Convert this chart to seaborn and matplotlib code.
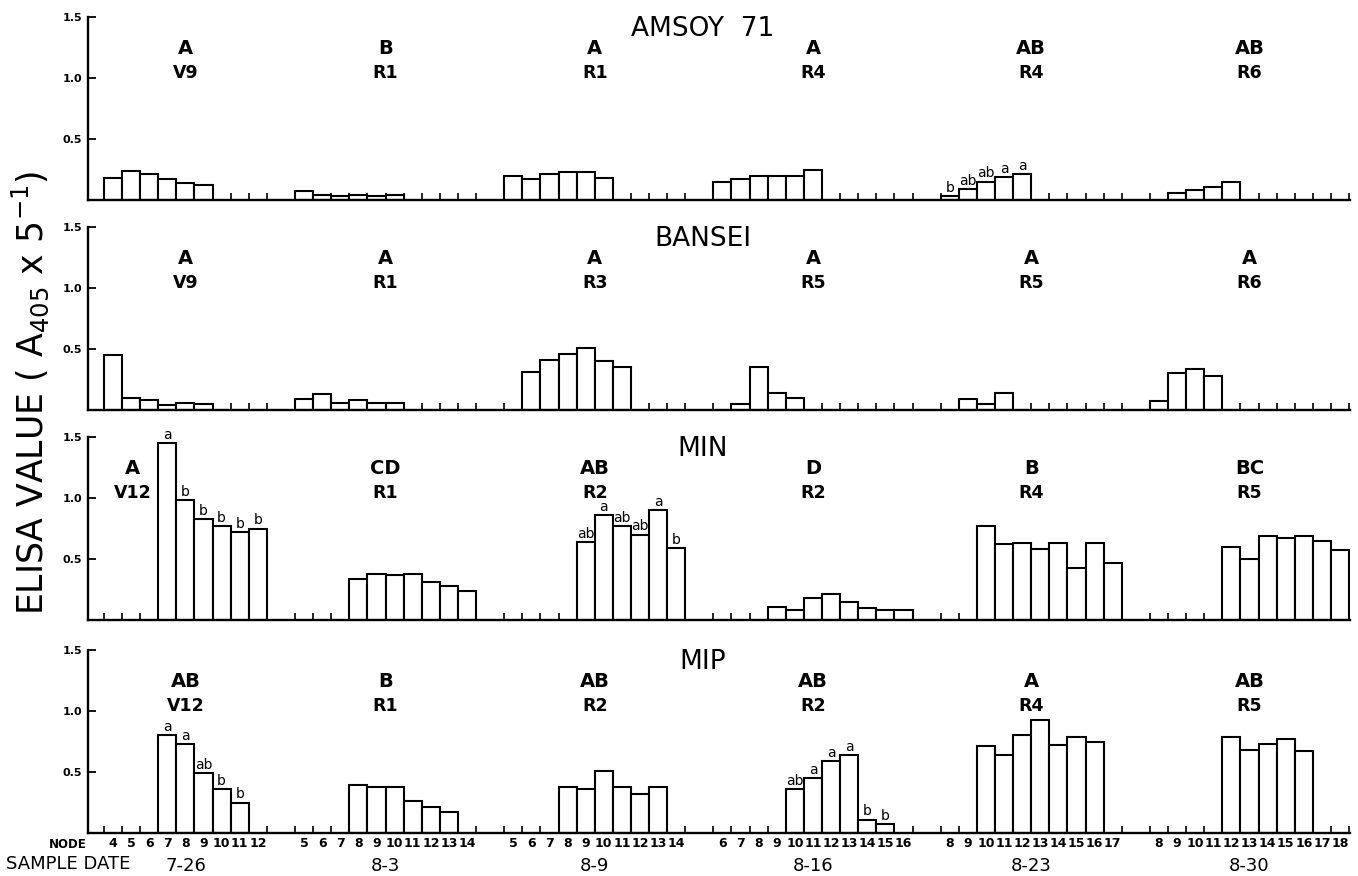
import numpy as np
import pandas as pd
import matplotlib
matplotlib.use("Agg")
import matplotlib.pyplot as plt
import seaborn as sns

# ---------------- data ----------------
SAMPLE_DATES = ["7-26", "8-3", "8-9", "8-16", "8-23", "8-30"]
NODE_FIRST = [4, 5, 5, 6, 8, 8]      # first node listed on the axis per sample date
NODE_LAST = [12, 14, 14, 16, 17, 18]  # last node listed on the axis per sample date

CULTIVARS = ["AMSOY  71", "BANSEI", "MIN", "MIP"]

# first node with a bar, per sample date
AMSOY_START = [4, 5, 5, 6, 8, 9]
AMSOY_VALUES = [
    [0.18, 0.24, 0.21, 0.17, 0.14, 0.12],
    [0.07, 0.045, 0.03, 0.045, 0.03, 0.045],
    [0.20, 0.17, 0.21, 0.23, 0.23, 0.18],
    [0.15, 0.17, 0.20, 0.20, 0.20, 0.25],
    [0.03, 0.09, 0.15, 0.19, 0.21],
    [0.06, 0.08, 0.11, 0.15],
]
AMSOY_GROUP = ["A", "B", "A", "A", "AB", "AB"]
AMSOY_STAGE = ["V9", "R1", "R1", "R4", "R4", "R6"]
AMSOY_SIG = [None, None, None, None, ["b", "ab", "ab", "a", "a"], None]

BANSEI_START = [4, 5, 6, 7, 9, 8]
BANSEI_VALUES = [
    [0.45, 0.10, 0.08, 0.04, 0.06, 0.05],
    [0.09, 0.13, 0.06, 0.08, 0.055, 0.055],
    [0.31, 0.41, 0.46, 0.51, 0.40, 0.35],
    [0.05, 0.35, 0.14, 0.10],
    [0.09, 0.05, 0.14],
    [0.07, 0.30, 0.34, 0.28],
]
BANSEI_GROUP = ["A", "A", "A", "A", "A", "A"]
BANSEI_STAGE = ["V9", "R1", "R3", "R5", "R5", "R6"]
BANSEI_SIG = [None, None, None, None, None, None]

MIN_START = [7, 8, 9, 9, 10, 12]
MIN_VALUES = [
    [1.45, 0.98, 0.83, 0.77, 0.72, 0.75],
    [0.34, 0.38, 0.37, 0.38, 0.31, 0.28, 0.24],
    [0.64, 0.86, 0.77, 0.70, 0.90, 0.59],
    [0.11, 0.08, 0.18, 0.21, 0.15, 0.10, 0.08, 0.08],
    [0.77, 0.62, 0.63, 0.58, 0.63, 0.43, 0.63, 0.47],
    [0.60, 0.50, 0.69, 0.67, 0.69, 0.65, 0.57],
]
MIN_GROUP = ["A", "CD", "AB", "D", "B", "BC"]
MIN_STAGE = ["V12", "R1", "R2", "R2", "R4", "R5"]
MIN_SIG = [["a", "b", "b", "b", "b", "b"], None,
           ["ab", "a", "ab", "ab", "a", "b"], None, None, None]

MIP_START = [7, 8, 8, 10, 10, 12]
MIP_VALUES = [
    [0.80, 0.73, 0.49, 0.36, 0.25],
    [0.39, 0.38, 0.38, 0.26, 0.21, 0.17],
    [0.38, 0.36, 0.51, 0.38, 0.32, 0.38],
    [0.36, 0.45, 0.59, 0.64, 0.11, 0.07],
    [0.71, 0.64, 0.80, 0.93, 0.72, 0.79, 0.75],
    [0.79, 0.68, 0.73, 0.77, 0.67],
]
MIP_GROUP = ["AB", "B", "AB", "AB", "A", "AB"]
MIP_STAGE = ["V12", "R1", "R2", "R2", "R4", "R5"]
MIP_SIG = [["a", "a", "ab", "b", "b"], None, None,
           ["ab", "a", "a", "a", "b", "b"], None, None]

PANELS = [
    (AMSOY_START, AMSOY_VALUES, AMSOY_GROUP, AMSOY_STAGE, AMSOY_SIG),
    (BANSEI_START, BANSEI_VALUES, BANSEI_GROUP, BANSEI_STAGE, BANSEI_SIG),
    (MIN_START, MIN_VALUES, MIN_GROUP, MIN_STAGE, MIN_SIG),
    (MIP_START, MIP_VALUES, MIP_GROUP, MIP_STAGE, MIP_SIG),
]

# ---------------- style ----------------
sns.set_theme(style="white")
plt.rcParams["font.family"] = ["DejaVu Sans"]
plt.rcParams["mathtext.default"] = "regular"
for key in ["text.color", "axes.labelcolor", "xtick.color", "ytick.color",
            "axes.edgecolor"]:
    plt.rcParams[key] = "black"

W, H = 1358, 876
fig = plt.figure(figsize=(W / 100, H / 100), dpi=100)
fig.patch.set_facecolor("white")

# slot layout: consecutive nodes within a sample date, gap between dates
GAP = 1.55
base = [0.0]
for g in range(1, len(SAMPLE_DATES)):
    base.append(base[-1] + (NODE_LAST[g - 1] - NODE_FIRST[g - 1]) + 1 + GAP)


def slot(g, node):
    return base[g] + (node - NODE_FIRST[g])


boundaries = []
centers = []
center_labels = []
for g in range(len(SAMPLE_DATES)):
    for n in range(NODE_FIRST[g], NODE_LAST[g] + 1):
        centers.append(slot(g, n))
        center_labels.append(str(n))
    for n in range(NODE_FIRST[g], NODE_LAST[g] + 2):
        boundaries.append(slot(g, n) - 0.5)

group_center = [(slot(g, NODE_FIRST[g]) + slot(g, NODE_LAST[g])) / 2
                for g in range(len(SAMPLE_DATES))]

XMIN, XMAX = -1.38, 68.3
tops = [17, 227, 437, 650]
AX_H = 183
axes = []
for p, (starts, values, grp, stage, sig) in enumerate(PANELS):
    top = tops[p]
    ax = fig.add_axes([88 / W, 1 - (top + AX_H) / H, 1262 / W, AX_H / H])
    axes.append(ax)
    pos, val = [], []
    for g, vals in enumerate(values):
        for k, v in enumerate(vals):
            pos.append(slot(g, starts[g] + k))
            val.append(v)
    df = pd.DataFrame({"pos": pos, "value": val})
    sns.barplot(data=df, x="pos", y="value", native_scale=True, orient="x",
                width=1.0, color="white", saturation=1, edgecolor="black",
                linewidth=1.5, errorbar=None, ax=ax)
    ax.set_xlim(XMIN, XMAX)
    ax.set_ylim(0, 1.5)
    ax.set_xlabel("")
    ax.set_ylabel("")
    ax.set_axisbelow(True)
    for s in ["top", "right"]:
        ax.spines[s].set_visible(False)
    for s in ["left", "bottom"]:
        ax.spines[s].set_linewidth(1.7)
        ax.spines[s].set_color("black")
    ax.set_xticks(boundaries)
    ax.set_xticklabels([])
    ax.tick_params(axis="x", which="major", direction="in", length=5,
                   width=1.2, color="black", bottom=True, labelbottom=False)
    ax.set_yticks([0.5, 1.0, 1.5])
    ax.set_yticklabels(["0.5", "1.0", "1.5"], fontsize=8, fontweight="bold")
    ax.tick_params(axis="y", direction="in", length=6, width=1.3,
                   color="black", left=True, pad=4)

    # cultivar name
    ax.text(0.487, 1.40, CULTIVARS[p], transform=ax.get_yaxis_transform(),
            ha="center", va="center", fontsize=19, color="black")
    # group letters and growth stages
    for g in range(len(SAMPLE_DATES)):
        cx = group_center[g]
        if p == 2 and g == 0:
            cx = slot(0, 5.1)
        ax.text(cx, 1.24, grp[g], ha="center", va="center", fontsize=14,
                fontweight="bold", color="black")
        ax.text(cx, 1.04, stage[g], ha="center", va="center", fontsize=12.5,
                fontweight="bold", color="black")
        if sig[g] is not None:
            for k, s in enumerate(sig[g]):
                x = slot(g, starts[g] + k)
                ax.text(x, values[g][k] + 0.01, s, ha="center", va="bottom",
                        fontsize=10, clip_on=False, color="black")

# bottom axis: node labels and sample dates
axb = axes[-1]
axb.set_xticks(centers, minor=True)
axb.set_xticklabels(center_labels, minor=True, fontsize=9, fontweight="bold")
axb.tick_params(axis="x", which="minor", length=0, pad=3, labelbottom=True,
                bottom=True)
for g, d in enumerate(SAMPLE_DATES):
    axb.text(group_center[g], (833 - 866) / AX_H, d, transform=axb.get_xaxis_transform(),
             ha="center", va="center", fontsize=13, color="black")

fig.text(68 / W, 1 - 845 / H, "NODE", ha="center", va="center", fontsize=8.5,
         fontweight="bold", color="black")
fig.text(68 / W, 1 - 864 / H, "SAMPLE DATE", ha="center", va="center",
         fontsize=13, color="black")
fig.text(30 / W, 1 - 393 / H, r"ELISA VALUE ( A$_{405}$ x 5$^{-1}$)",
         rotation=90, ha="center", va="center", fontsize=25, color="black")

fig.savefig("out.png", dpi=100, facecolor="white")
